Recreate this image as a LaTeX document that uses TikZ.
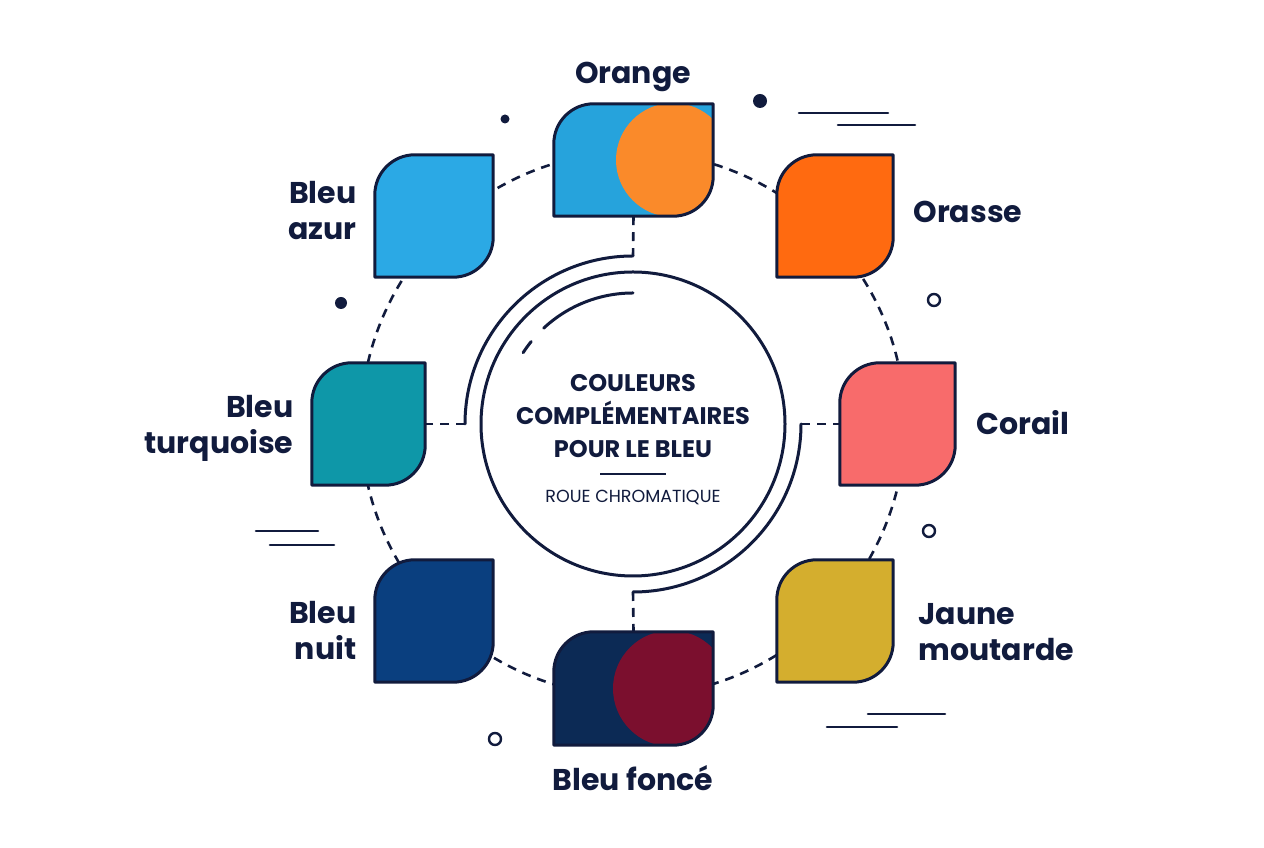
\documentclass[tikz,border=0pt]{standalone}
\usepackage{fontspec}
\setmainfont{Poppins}
\usepackage{xcolor}
\usetikzlibrary{positioning}
\definecolor{ink}{HTML}{111B3D}
\definecolor{azur}{HTML}{2BA9E5}
\definecolor{azurb}{HTML}{26A3DC}
\definecolor{orangec}{HTML}{FA8A2A}
\definecolor{orasse}{HTML}{FF6A10}
\definecolor{corail}{HTML}{F86B6B}
\definecolor{jaune}{HTML}{D4AE2E}
\definecolor{navy}{HTML}{0C2A55}
\definecolor{maroon}{HTML}{7B0F2E}
\definecolor{nuit}{HTML}{0A3F7F}
\definecolor{turq}{HTML}{0E97A8}

\newcommand{\leafshape}[1]{(#1.south west) -- ([yshift=-40pt]#1.north west)
  arc[start angle=180,end angle=90,radius=40pt] -- (#1.north east)
  -- ([yshift=40pt]#1.south east) arc[start angle=0,end angle=-90,radius=40pt] -- cycle}

\begin{document}
\begin{tikzpicture}[
  x=1pt, y=1pt,
  tilebox/.style={inner sep=0pt, minimum width=#1, minimum height=122pt},
  tilebox/.default=116pt,
  leaf/.style={draw=ink, line width=3pt, line join=round},
  lbl/.style={text=ink, font=\bfseries\fontsize{30}{36}\selectfont},
  dashring/.style={draw=ink, line width=2.6pt, dash pattern=on 9pt off 7pt},
  ringline/.style={draw=ink, line width=3pt, line cap=round}
]
\useasboundingbox (0,0) rectangle (1264,848);
\fill[white] (0,0) rectangle (1264,848);

% centre
\node[circle, minimum size=304pt, inner sep=0pt] (hub) at (633,424) {};
\draw[dashring] (hub.center) circle[radius=272pt];

% tiles
\node[tilebox=159pt, minimum height=112pt] (orange) at (633.5,688) {};
\node[tilebox] (orasse) at (835,632) {};
\node[tilebox=115pt] (corail) at (897.5,424) {};
\node[tilebox] (jaune) at (835,227) {};
\node[tilebox=159pt, minimum height=113pt] (fonce) at (633.5,159.5) {};
\node[tilebox=118pt] (nuit) at (434,227) {};
\node[tilebox=113pt] (turq) at (368.5,424) {};
\node[tilebox=118pt] (azur) at (434,632) {};

% ring and spokes
\draw[ringline] (hub.center) circle[radius=152pt];
\draw[ringline] ([yshift=168pt]hub.center) arc[start angle=90,end angle=180,radius=168pt];
\draw[ringline] ([xshift=168pt]hub.center) arc[start angle=0,end angle=-90,radius=168pt];
\draw[ringline] ([yshift=131pt]hub.center) arc[start angle=90,end angle=133,radius=131pt];
\draw[ringline] ([shift={(141:131pt)}]hub.center) arc[start angle=141,end angle=147,radius=131pt];
\coordinate (ntop) at ([yshift=168pt]hub.center);
\coordinate (nbot) at ([yshift=-168pt]hub.center);
\coordinate (nleft) at ([xshift=-168pt]hub.center);
\coordinate (nright) at ([xshift=168pt]hub.center);
\draw[dashring] (orange.south) -- (ntop);
\draw[dashring] (nbot) -- (fonce.north);
\draw[dashring] (nleft) -- (turq.east);
\draw[dashring] (nright) -- (corail.west);

\foreach \t/\c in {orasse/orasse, corail/corail, jaune/jaune, nuit/nuit, turq/turq, azur/azur}
  \draw[leaf, fill=\c] \leafshape{\t};
\fill[azurb] \leafshape{orange};
\begin{scope}
  \clip \leafshape{orange};
  \fill[orangec] (673,688) circle[radius=57pt];
\end{scope}
\draw[leaf] \leafshape{orange};
\fill[navy] \leafshape{fonce};
\begin{scope}
  \clip \leafshape{fonce};
  \fill[maroon] (671,159.5) circle[radius=58pt];
\end{scope}
\draw[leaf] \leafshape{fonce};

% labels
\node[lbl] (lorange) at (633,771) {Orange};
\node[lbl, anchor=west] (lorasse) at (910,636) {Orasse};
\node[lbl, anchor=west] (lcorail) at (973,425) {Corail};
\node[lbl, anchor=west, align=left] (ljaune) at (915,216) {Jaune\\moutarde};
\node[lbl] (lfonce) at (633,70) {Bleu foncé};
\node[lbl, anchor=east, align=right] (lnuit) at (360,218) {Bleu\\nuit};
\node[lbl, anchor=east, align=right] (lturq) at (297,420) {Bleu\\turquoise};
\node[lbl, anchor=east, align=right] (lazur) at (360,637) {Bleu\\azur};

% title
\node[text=ink, align=center, font=\bfseries\fontsize{24}{33}\selectfont] (title) at (633,432)
  {COULEURS\\COMPLÉMENTAIRES\\POUR LE BLEU};
\draw[ink, line width=2pt] (600,374) -- (666,374);
\node[text=ink, font=\fontsize{17.5}{20}\selectfont] (sub) at (633,351) {ROUE CHROMATIQUE};

% decorations
\fill[ink] (505,729) circle[radius=4.5pt] (760,747) circle[radius=7pt] (341,545) circle[radius=6pt];
\draw[ink, line width=2.4pt] (934,548) circle[radius=6pt] (929,317) circle[radius=6pt] (495,109) circle[radius=6pt];
\draw[ink, line width=2.6pt, line cap=round]
  (799,735) -- (888,735) (838,723) -- (915,723)
  (256,317) -- (318,317) (270,303) -- (334,303)
  (868,134) -- (945,134) (827,121) -- (897,121);
\end{tikzpicture}
\end{document}
